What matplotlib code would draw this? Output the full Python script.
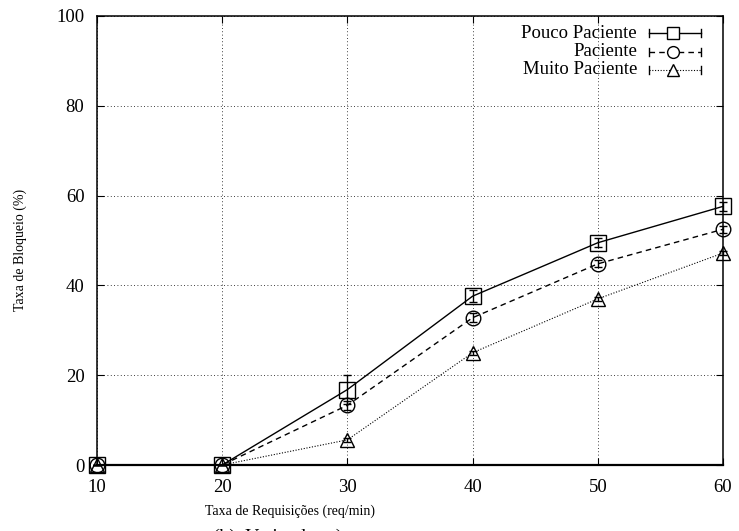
import matplotlib.pyplot as plt

plt.rcParams['font.family'] = ['Liberation Serif', 'DejaVu Serif']

taxa = [10, 20, 30, 40, 50, 60]
pouco = [0, 0, 16.8, 37.6, 49.5, 57.6]
pouco_err = [0, 0, 3.3, 1.3, 1.0, 1.0]
paciente = [0, 0, 13.3, 32.8, 44.8, 52.5]
paciente_err = [0, 0, 1.0, 1.0, 0.8, 0.8]
muito = [0, 0, 5.6, 25.0, 37.0, 47.2]
muito_err = [0, 0, 0.5, 0.5, 0.5, 0.5]

labels = ["Pouco Paciente", "Paciente", "Muito Paciente"]
xticks = [10, 20, 30, 40, 50, 60]
yticks = [0, 20, 40, 60, 80, 100]

W, H = 739, 531
fig = plt.figure(figsize=(W / 100, H / 100), dpi=100)
ax = fig.add_axes([97 / W, 1 - 465 / H, 626 / W, 449 / H])

styles = [
    dict(ls="-", lw=1.0, marker="s", ms=11),
    dict(ls=(0, (4, 3)), lw=1.0, marker="o", ms=10.5),
    dict(ls=(0, (1, 1.5)), lw=0.8, marker="^", ms=10),
]
series = [(pouco, pouco_err), (paciente, paciente_err), (muito, muito_err)]

for (vals, err), st in zip(series, styles):
    ax.errorbar(taxa, vals, yerr=err, color="black", mfc="none", mec="black",
                mew=1.0, capsize=3, elinewidth=1.0, clip_on=False, **st)

ax.set_xlim(10, 60)
ax.set_ylim(0, 100)
ax.set_xticks(xticks)
ax.set_yticks(yticks)
ax.tick_params(direction="in", top=True, right=True, length=5, labelsize=13.5)
ax.tick_params(axis="x", pad=10)
ax.tick_params(axis="y", pad=9)
ax.grid(True, color="black", ls=(0, (1, 3)), lw=0.6)
for s in ax.spines.values():
    s.set_linewidth(1.1)
ax.spines["bottom"].set_linewidth(1.6)

ax.set_xlabel("Taxa de Requisições (req/min)", fontsize=10)
ax.set_ylabel("Taxa de Bloqueio (%)", fontsize=10)
ax.xaxis.set_label_coords((290 - 97) / 626, (465 - 505) / 449)
ax.yaxis.set_label_coords((27 - 97) / 626, (465 - 250) / 449)

# gnuplot-style key: text right-aligned, sample with horizontal error bar
def ax_xy(px, py):
    return (px - 97) / 626, (465 - py) / 449

legend_ms = [8.5, 8.5, 8.5]
for i, (lab, st) in enumerate(zip(labels, styles)):
    py = 33 + 18.5 * i
    tx, ty = ax_xy(637, py)
    ax.text(tx, ty, lab, transform=ax.transAxes, ha="right", va="center",
            fontsize=13.5)
    x0, yy = ax_xy(649, py)
    x1, _ = ax_xy(701, py)
    xm, _ = ax_xy(673, py)
    ax.plot([x0, x1], [yy, yy], transform=ax.transAxes, color="black",
            ls=st["ls"], lw=st["lw"], clip_on=False)
    cap = 4 / 449
    for xc in (x0, x1):
        ax.plot([xc, xc], [yy - cap, yy + cap], transform=ax.transAxes,
                color="black", lw=1.0, clip_on=False)
    ax.plot([xm], [yy], transform=ax.transAxes, marker=st["marker"],
            ms=legend_ms[i], mfc="white", mec="black", mew=1.0, ls="none",
            clip_on=False)

fig.text(213 / W, -0.012, "(b)  Variando  α)", fontsize=14, ha="left",
         va="center")

fig.savefig("out.png", dpi=100)
